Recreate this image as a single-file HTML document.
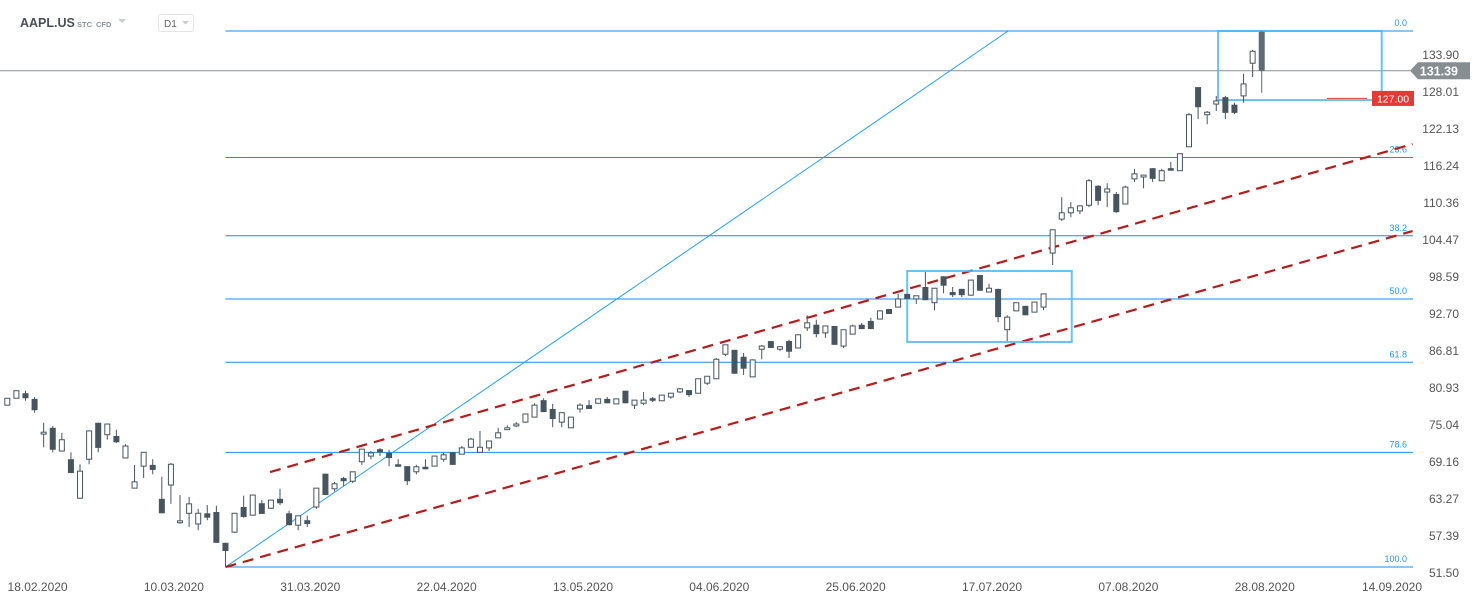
<!DOCTYPE html>
<html><head><meta charset="utf-8"><style>
html,body{margin:0;padding:0;background:#fff;width:1482px;height:604px;overflow:hidden;font-family:"Liberation Sans",sans-serif}
svg{display:block}
</style></head><body>
<svg id="chart" width="1482" height="604" xmlns="http://www.w3.org/2000/svg">
<g>
<text x="20" y="27" font-size="12.5" font-weight="bold" fill="#4a4f55">AAPL.US</text>
<text x="77" y="27" font-size="7.5" font-weight="bold" fill="#8a949c">STC</text>
<text x="96" y="27" font-size="7.5" font-weight="bold" fill="#8a949c">CFD</text>
<path d="M118 19 L126 19 L122 23 Z" fill="#c8ccd0"/>
<rect x="158.5" y="14.5" width="35" height="17" rx="2" fill="#fff" stroke="#e2e4e6"/>
<text x="164" y="27" font-size="10" fill="#666">D1</text>
<path d="M182 21 L189 21 L185.5 24.5 Z" fill="#c8ccd0"/>
</g>
<g id="drawings"></g>
<g id="candles"></g>
<g id="axes"></g>
</svg>
<script>
// ---- data ----
const opens  = [78.2,79.3,80.1,79.2,73.6,74.6,70.9,69.6,63.4,69.6,75.4,73.5,73.3,69.8,65.0,68.5,68.7,63.3,65.5,59.5,61.0,59.3,61.0,61.2,56.3,58.0,62.0,60.7,62.6,61.8,63.3,61.0,59.1,59.9,62.0,67.3,64.9,66.6,66.1,69.2,70.1,71.2,70.6,68.8,68.5,67.6,68.4,68.5,69.6,70.7,70.4,71.5,70.7,71.4,73.0,74.3,74.9,75.5,76.3,79.0,77.6,75.5,74.6,77.6,78.2,78.5,79.2,78.4,80.5,78.2,78.5,79.3,78.9,79.5,80.3,80.6,80.1,81.7,82.4,86.3,87.0,85.9,82.7,87.1,88.4,87.1,88.4,87.3,90.5,91.0,89.7,90.8,87.6,89.5,91.0,91.6,91.9,93.5,93.8,95.9,95.1,97.0,94.5,98.7,96.2,96.7,95.7,98.9,96.2,96.7,90.2,93.2,94.0,93.0,93.8,102.4,107.8,108.8,109.1,110.0,113.1,112.1,111.8,110.2,114.2,114.5,115.9,113.9,115.9,115.5,119.3,128.8,124.4,126.1,127.2,126.0,127.4,132.6,137.6];
const highs  = [79.3,80.5,80.5,79.5,75.4,74.9,73.8,70.7,68.8,74.1,75.4,75.2,74.3,72.0,68.7,70.7,69.6,66.8,69.0,63.9,63.6,61.7,62.3,62.2,56.3,61.0,63.8,63.9,63.1,63.1,64.9,61.4,60.6,60.6,65.0,67.3,66.0,66.8,67.6,71.2,70.9,71.4,71.1,69.6,68.5,68.7,69.6,70.1,70.6,70.7,71.7,73.0,74.1,72.5,74.6,75.0,75.5,76.8,78.5,79.3,78.4,77.0,76.3,78.5,79.0,79.2,79.5,79.2,80.5,79.0,80.3,79.5,79.8,80.1,80.9,80.6,82.4,82.8,85.7,87.8,87.0,86.5,85.5,87.8,88.4,87.6,88.6,89.4,92.5,91.8,90.8,90.8,90.2,91.0,91.3,92.1,93.3,93.5,95.9,95.9,95.6,99.4,96.8,98.7,97.0,96.7,98.1,98.9,97.5,96.7,92.5,94.5,94.0,94.6,95.9,106.1,111.3,110.5,110.0,114.2,113.2,113.5,112.1,113.1,115.8,114.8,115.9,115.8,116.9,118.2,124.7,128.8,125.0,127.4,127.4,126.3,130.9,134.7,137.7];
const lows   = [78.2,79.3,78.9,77.0,71.5,70.7,70.9,67.4,63.3,68.8,70.7,72.7,72.2,69.8,65.0,66.6,67.2,61.0,62.5,59.3,58.8,58.3,59.9,56.3,52.5,57.9,60.3,60.7,60.9,61.7,62.3,59.1,58.3,58.8,61.7,63.9,64.5,65.3,65.8,68.7,69.6,70.1,68.5,68.4,65.5,67.2,68.0,68.5,69.2,68.7,70.4,71.4,70.7,70.9,73.0,74.3,74.7,75.4,76.3,77.1,74.7,74.7,74.6,77.0,77.6,78.5,78.5,78.4,78.5,77.6,78.2,78.7,78.9,79.2,80.1,79.5,80.1,81.4,82.4,86.0,83.2,83.0,82.7,85.5,87.3,86.8,85.7,87.3,90.0,89.0,88.9,87.8,87.3,89.5,90.3,90.3,91.9,92.7,93.8,95.1,94.3,94.9,93.3,96.0,95.4,95.4,95.6,96.4,96.2,91.4,88.4,93.2,92.5,93.0,93.3,100.5,107.5,108.1,108.6,109.7,110.0,109.7,108.8,110.2,113.7,112.7,113.7,113.9,115.5,115.5,119.3,123.7,122.9,125.0,123.7,124.5,126.3,130.4,127.9];
const closes = [79.3,80.5,79.3,77.4,73.9,71.1,72.7,67.4,67.7,74.1,71.4,75.2,72.3,71.7,66.0,70.7,67.9,61.0,68.8,59.8,62.5,61.0,60.3,56.3,55.0,61.0,60.4,63.9,60.9,63.1,62.6,59.1,60.6,59.3,65.0,63.9,65.7,66.1,67.6,71.2,70.6,70.7,69.8,68.4,66.1,68.4,68.0,70.1,70.3,68.7,71.4,72.8,71.5,72.5,73.8,74.6,75.2,76.8,78.2,77.1,76.0,77.0,76.3,78.2,77.6,79.2,78.5,79.2,78.5,79.0,79.0,78.9,79.8,80.1,80.8,79.8,82.4,82.8,85.5,87.8,83.2,84.0,85.4,87.6,87.3,87.5,86.7,89.4,91.3,89.5,90.8,87.8,90.2,90.8,90.3,90.3,93.2,92.7,95.1,95.1,95.6,94.9,96.8,97.2,95.7,95.7,98.1,96.4,96.8,92.2,92.2,94.5,92.5,94.6,95.9,106.1,108.8,109.6,109.9,113.9,110.7,112.6,108.9,112.9,115.0,114.8,114.2,115.5,115.5,118.2,124.4,125.6,124.8,126.6,124.7,124.7,129.3,134.5,131.4];
const priceTicks = [133.90,128.01,122.13,116.24,110.36,104.47,98.59,92.70,86.81,80.93,75.04,69.16,63.27,57.39,51.50];
const dateLabels = ["18.02.2020","10.03.2020","31.03.2020","22.04.2020","13.05.2020","04.06.2020","25.06.2020","17.07.2020","07.08.2020","28.08.2020","14.09.2020"];
const dateIndex  = [3,18,33,48,63,78,93,108,123,138,152];
const fibLevels = [0.0,23.6,38.2,50.0,61.8,78.6,100.0];
const fibHigh = 137.72, fibLow = 52.45, fibStartIndex = 24;
const lastPrice = 131.39, orderPrice = 127.00;
const upperChannel = [[28.9,67.56],[154.6,119.74]];
const lowerChannel = [[24,52.45],[154.6,105.9]];
const trendLine = [[24,52.45],[110.1,137.72]];
const box1 = [[133.2,137.72],[151.2,126.74]];
const box2 = [[99,99.54],[117.1,88.25]];

// ---- axis functions ----
const X = i => 7.3 + i*9.09;
const Y = p => 573 - (p-51.5)*6.286;
const NS = "http://www.w3.org/2000/svg";
function mk(tag, attrs, parent){const e=document.createElementNS(NS,tag);for(const k in attrs)e.setAttribute(k,attrs[k]);parent.appendChild(e);return e;}
const gD = document.getElementById('drawings'), gC=document.getElementById('candles'), gA=document.getElementById('axes');
const plotRight = 1413;

fibLevels.forEach(l=>{
  const p = fibHigh - (fibHigh-fibLow)*l/100, y=Y(p);
  const ln = mk('line',{x1:X(fibStartIndex),x2:plotRight,y1:y,y2:y,stroke:'#1a8cf0','stroke-width':1},gD);
  
  
  const t = mk('text',{x:1407,y:y-5,'font-size':9,fill:'#2196f3','text-anchor':'end'},gD);
  t.textContent = l.toFixed(1);
  
  
});
const lp = mk('line',{x1:0,x2:1410,y1:Y(lastPrice),y2:Y(lastPrice),stroke:'#8a9094','stroke-width':1},gD);


const tl = mk('line',{x1:X(trendLine[0][0]),y1:Y(trendLine[0][1]),x2:X(trendLine[1][0]),y2:Y(trendLine[1][1]),stroke:'#2a9df4','stroke-width':1},gD);


[upperChannel,lowerChannel].forEach((c,k)=>{
  const l = mk('line',{x1:X(c[0][0]),y1:Y(c[0][1]),x2:X(c[1][0]),y2:Y(c[1][1]),stroke:'#b71c1c','stroke-width':2.2,'stroke-dasharray':'11 7'},gD);
  
  
});
[box1,box2].forEach((b,k)=>{
  const x1=X(b[0][0]),x2=X(b[1][0]),y1=Y(b[0][1]),y2=Y(b[1][1]);
  const r = mk('rect',{x:x1,y:y1,width:x2-x1,height:y2-y1,fill:'none',stroke:'#4fb8ea','stroke-width':2,'stroke-opacity':0.85},gD);
  
  
});
const ol = mk('line',{x1:1327,x2:1367,y1:Y(orderPrice),y2:Y(orderPrice),stroke:'#e53935','stroke-width':1},gD);



for(let i=0;i<opens.length;i++){
  const o=opens[i],h=highs[i],l=lows[i],c=closes[i],x=X(i);
  const up = c>=o;
  const col = i===opens.length-1 ? '#5d6b74' : '#47555f';
  const g = mk('g',{},gC);
  
  
  mk('line',{x1:x,x2:x,y1:Y(h),y2:Y(l),stroke:col,'stroke-width':1},g);
  const top=Y(Math.max(o,c)), bot=Y(Math.min(o,c));
  if(up) mk('rect',{x:x-2.5,y:top,width:5,height:Math.max(bot-top,1),fill:'#fff',stroke:col,'stroke-width':1},g);
  else mk('rect',{x:x-3,y:top,width:6,height:Math.max(bot-top,1.5),fill:col},g);
}

priceTicks.forEach(p=>{
  const t=mk('text',{x:1459,y:Y(p)+4,'font-size':12,fill:'#555','text-anchor':'end'},gA);
  t.textContent=p.toFixed(2);
  
  
});
dateLabels.forEach((d,k)=>{
  const t=mk('text',{x:X(dateIndex[k])+3,y:591,'font-size':12,fill:'#555','text-anchor':'middle'},gA);
  t.textContent=d;
  
  
});
const yl=Y(lastPrice);
const tag=mk('path',{d:`M1410 ${yl} L1418 ${yl-8.5} L1470 ${yl-8.5} L1470 ${yl+8.5} L1418 ${yl+8.5} Z`,fill:'#868e92'},gA);


const tt=mk('text',{x:1458,y:yl+4.5,'font-size':12.5,'font-weight':'bold',fill:'#fff','text-anchor':'end'},gA);
tt.textContent=lastPrice.toFixed(2);


const yo=Y(orderPrice);
const ot=mk('rect',{x:1372,y:yo-7.5,width:42,height:15,fill:'#e53935'},gA);


const ott=mk('text',{x:1393,y:yo+4,'font-size':10.5,fill:'#fff','text-anchor':'middle'},gA);
ott.textContent=orderPrice.toFixed(2);


</script>
</body></html>
